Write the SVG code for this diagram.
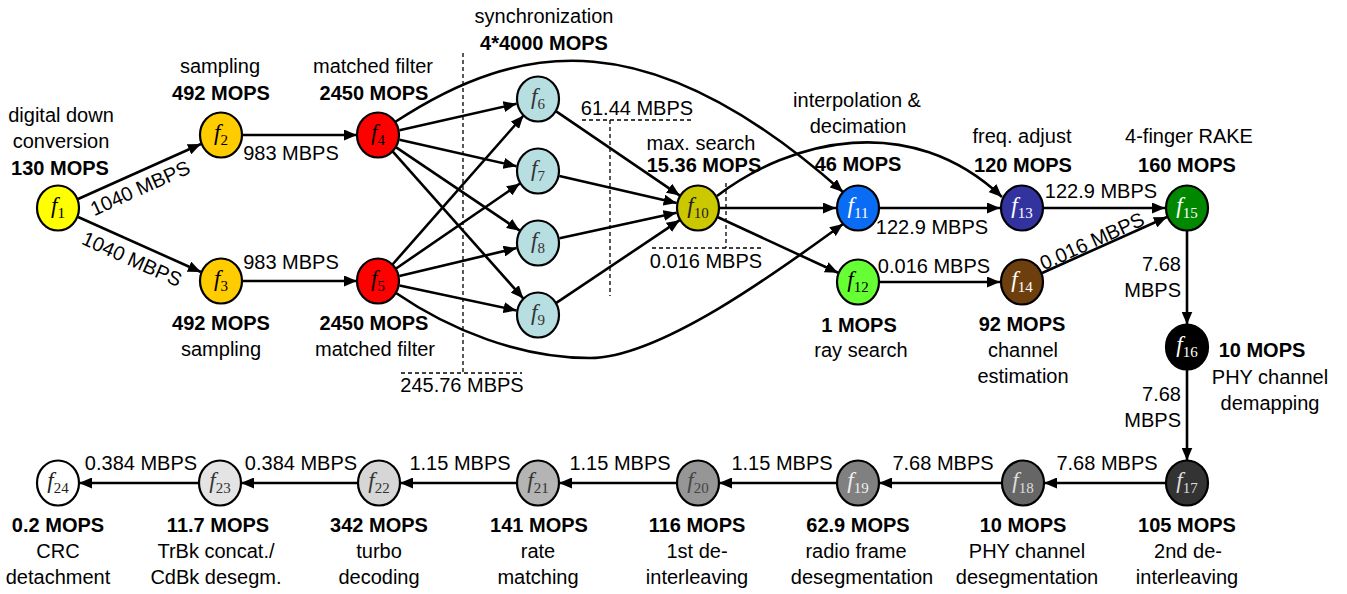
<svg xmlns="http://www.w3.org/2000/svg" width="1347" height="594" viewBox="0 0 1347 594">
<style>
.t{font-family:"Liberation Sans",Arial,sans-serif;font-size:20px;fill:#000;text-anchor:middle}
.b{font-weight:bold}
.r{text-anchor:end}
.n{stroke:#000;stroke-width:2.2}
.nt{font-family:"Liberation Serif","Times New Roman",serif;text-anchor:middle}
.fi{font-style:italic;font-size:23px}
.sb{font-size:15px}
.e{stroke:#000;stroke-width:2.6;fill:none;marker-end:url(#ah)}
.d{stroke:#000;stroke-width:1.3;stroke-dasharray:4 3;fill:none}
</style>
<defs>
<marker id="ah" markerUnits="userSpaceOnUse" markerWidth="13" markerHeight="11" refX="13" refY="5.5" orient="auto"><path d="M0,0 L13,5.5 L0,11 z" fill="#000"/></marker>
</defs>
<rect width="1347" height="594" fill="#fff"/>

<g id="dashed">
<path class="d" d="M463,53 V373 M401,373 H522"/>
<path class="d" d="M582,120 H692 M610,120 V296"/>
<path class="d" d="M726,183 V248 M652,248 H761"/>
</g>

<g id="connectors">
<path class="e" d="M78.1,199 L200.9,144"/>
<path class="e" d="M78.1,217 L200.9,272"/>
<path class="e" d="M242,135 L357,135"/>
<path class="e" d="M242,281 L357,281"/>
<path class="e" d="M399.5,130.2 L516.5,103.8"/>
<path class="e" d="M399.5,139.8 L516.5,166.2"/>
<path class="e" d="M396.2,147.3 L519.8,230.7"/>
<path class="e" d="M392.6,151.4 L523.4,298.6"/>
<path class="e" d="M392.5,264.5 L523.5,115.5"/>
<path class="e" d="M396.1,268.5 L519.9,183.5"/>
<path class="e" d="M399.4,275.9 L516.6,248.1"/>
<path class="e" d="M399.5,285.6 L516.5,310.4"/>
<path class="e" d="M556.2,111.4 L679.8,195.6"/>
<path class="e" d="M559.4,176 L676.6,203"/>
<path class="e" d="M559.5,238.3 L676.5,212.7"/>
<path class="e" d="M556.3,302.8 L679.7,220.2"/>
<path class="e" d="M720,208 L836,208"/>
<path class="e" d="M718,217.2 L838,272.8"/>
<path class="e" d="M880,208 L1000,208"/>
<path class="e" d="M880,282 L1000,282"/>
<path class="e" d="M1044,208 L1165,208"/>
<path class="e" d="M1042.1,273 L1166.9,217"/>
<path class="e" d="M1187,230.5 L1187,324.5"/>
<path class="e" d="M1187,369.5 L1187,460.5"/>
<path class="e" d="M1166,483 L1044,483"/>
<path class="e" d="M1002,483 L879,483"/>
<path class="e" d="M837,483 L719,483"/>
<path class="e" d="M677,483 L559,483"/>
<path class="e" d="M517,483 L400,483"/>
<path class="e" d="M358,483 L241,483"/>
<path class="e" d="M199,483 L79,483"/>
<path class="e" d="M395,122 C520,40 650,20 843,192"/>
<path class="e" d="M396,293 C450,330 520,358 590,358 S780,270 843,224"/>
<path class="e" d="M717,196 C790,140 910,110 1002,197"/>
</g>

<g id="edge-labels" class="t">
<text transform="translate(140,188) rotate(-24.1)" y="7">1040 MBPS</text>
<text transform="translate(132,259) rotate(24.1)" y="7">1040 MBPS</text>
<text x="291" y="160">983 MBPS</text>
<text x="291" y="269">983 MBPS</text>
<text x="637" y="115">61.44 MBPS</text>
<text x="706" y="268">0.016 MBPS</text>
<text x="462" y="392">245.76 MBPS</text>
<text x="932" y="234">122.9 MBPS</text>
<text x="934" y="273">0.016 MBPS</text>
<text x="1101" y="198">122.9 MBPS</text>
<text transform="translate(1092,241) rotate(-24.4)" y="7">0.016 MBPS</text>
<text class="r" x="1181" y="271">7.68</text>
<text class="r" x="1181" y="297">MBPS</text>
<text class="r" x="1181" y="401">7.68</text>
<text class="r" x="1181" y="427">MBPS</text>
<text x="1107" y="470">7.68 MBPS</text>
<text x="943" y="470">7.68 MBPS</text>
<text x="782" y="470">1.15 MBPS</text>
<text x="620" y="470">1.15 MBPS</text>
<text x="460" y="470">1.15 MBPS</text>
<text x="301" y="470">0.384 MBPS</text>
<text x="141" y="470">0.384 MBPS</text>
</g>

<g id="f1"><ellipse class="n" cx="58" cy="208" rx="21" ry="22.5" fill="#FFFF00"/><text class="nt" x="58" y="213"><tspan class="fi">f</tspan><tspan class="sb" dy="5">1</tspan></text>
<text class="t" x="61" y="122">digital down</text><text class="t" x="61" y="148">conversion</text><text class="t b" x="60" y="175">130 MOPS</text></g>
<g id="f2"><ellipse class="n" cx="221" cy="135" rx="21" ry="22.5" fill="#FFCC00"/><text class="nt" x="221" y="140"><tspan class="fi">f</tspan><tspan class="sb" dy="5">2</tspan></text>
<text class="t" x="220" y="73">sampling</text><text class="t b" x="221" y="100">492 MOPS</text></g>
<g id="f3"><ellipse class="n" cx="221" cy="281" rx="21" ry="22.5" fill="#FFCC00"/><text class="nt" x="221" y="286"><tspan class="fi">f</tspan><tspan class="sb" dy="5">3</tspan></text>
<text class="t b" x="221" y="330">492 MOPS</text><text class="t" x="221" y="356">sampling</text></g>
<g id="f4"><ellipse class="n" cx="378" cy="135" rx="21" ry="22.5" fill="#FF0000"/><text class="nt" x="378" y="140"><tspan class="fi">f</tspan><tspan class="sb" dy="5">4</tspan></text>
<text class="t" x="373" y="73">matched filter</text><text class="t b" x="374" y="100">2450 MOPS</text></g>
<g id="f5"><ellipse class="n" cx="378" cy="281" rx="21" ry="22.5" fill="#FF0000"/><text class="nt" x="378" y="286"><tspan class="fi">f</tspan><tspan class="sb" dy="5">5</tspan></text>
<text class="t b" x="374" y="330">2450 MOPS</text><text class="t" x="375" y="356">matched filter</text></g>
<g id="sync-label"><text class="t" x="544" y="23">synchronization</text><text class="t b" x="544" y="50">4*4000 MOPS</text></g>
<g id="f6"><ellipse class="n" cx="538" cy="99" rx="21" ry="22.5" fill="#B7DEE1"/><text class="nt" x="538" y="104" fill="#333"><tspan class="fi">f</tspan><tspan class="sb" dy="5">6</tspan></text></g>
<g id="f7"><ellipse class="n" cx="538" cy="171" rx="21" ry="22.5" fill="#B7DEE1"/><text class="nt" x="538" y="176" fill="#333"><tspan class="fi">f</tspan><tspan class="sb" dy="5">7</tspan></text></g>
<g id="f8"><ellipse class="n" cx="538" cy="243" rx="21" ry="22.5" fill="#B7DEE1"/><text class="nt" x="538" y="248" fill="#333"><tspan class="fi">f</tspan><tspan class="sb" dy="5">8</tspan></text></g>
<g id="f9"><ellipse class="n" cx="538" cy="315" rx="21" ry="22.5" fill="#B7DEE1"/><text class="nt" x="538" y="320" fill="#333"><tspan class="fi">f</tspan><tspan class="sb" dy="5">9</tspan></text></g>
<g id="f10"><ellipse class="n" cx="698" cy="208" rx="21" ry="22.5" fill="#CCC800"/><text class="nt" x="698" y="213" fill="#222"><tspan class="fi">f</tspan><tspan class="sb" dy="5">10</tspan></text>
<text class="t" x="701" y="150">max. search</text><text class="t b" x="704" y="172">15.36 MOPS</text></g>
<g id="f11"><ellipse class="n" cx="858" cy="208" rx="21" ry="22.5" fill="#0A6CF5"/><text class="nt" x="858" y="213" fill="#fff"><tspan class="fi">f</tspan><tspan class="sb" dy="5">11</tspan></text>
<text class="t" x="857" y="107">interpolation &amp;</text><text class="t" x="858" y="133">decimation</text><text class="t b" x="858" y="171">46 MOPS</text></g>
<g id="f12"><ellipse class="n" cx="858" cy="282" rx="21" ry="22.5" fill="#66FF33"/><text class="nt" x="858" y="287"><tspan class="fi">f</tspan><tspan class="sb" dy="5">12</tspan></text>
<text class="t b" x="859" y="332">1 MOPS</text><text class="t" x="861" y="357">ray search</text></g>
<g id="f13"><ellipse class="n" cx="1022" cy="208" rx="21" ry="22.5" fill="#33339F"/><text class="nt" x="1022" y="213" fill="#fff"><tspan class="fi">f</tspan><tspan class="sb" dy="5">13</tspan></text>
<text class="t" x="1022" y="143">freq. adjust</text><text class="t b" x="1023" y="172">120 MOPS</text></g>
<g id="f14"><ellipse class="n" cx="1022" cy="282" rx="21" ry="22.5" fill="#6E3F0E"/><text class="nt" x="1022" y="287" fill="#fff"><tspan class="fi">f</tspan><tspan class="sb" dy="5">14</tspan></text>
<text class="t b" x="1022" y="331">92 MOPS</text><text class="t" x="1023" y="357">channel</text><text class="t" x="1023" y="383">estimation</text></g>
<g id="f15"><ellipse class="n" cx="1187" cy="208" rx="21" ry="22.5" fill="#008800"/><text class="nt" x="1187" y="213" fill="#fff"><tspan class="fi">f</tspan><tspan class="sb" dy="5">15</tspan></text>
<text class="t" x="1189" y="143">4-finger RAKE</text><text class="t b" x="1187" y="172">160 MOPS</text></g>
<g id="f16"><ellipse class="n" cx="1187" cy="347" rx="21" ry="22.5" fill="#000"/><text class="nt" x="1187" y="352" fill="#fff"><tspan class="fi">f</tspan><tspan class="sb" dy="5">16</tspan></text>
<text class="t b" x="1262" y="357">10 MOPS</text><text class="t" x="1270" y="384">PHY channel</text><text class="t" x="1270" y="410">demapping</text></g>
<g id="f17"><ellipse class="n" cx="1187" cy="483" rx="21" ry="22.5" fill="#333"/><text class="nt" x="1187" y="488" fill="#ddd"><tspan class="fi">f</tspan><tspan class="sb" dy="5">17</tspan></text>
<text class="t b" x="1187" y="532">105 MOPS</text><text class="t" x="1188" y="558">2nd de-</text><text class="t" x="1187" y="584">interleaving</text></g>
<g id="f18"><ellipse class="n" cx="1023" cy="483" rx="21" ry="22.5" fill="#666"/><text class="nt" x="1023" y="488" fill="#ddd"><tspan class="fi">f</tspan><tspan class="sb" dy="5">18</tspan></text>
<text class="t b" x="1023" y="532">10 MOPS</text><text class="t" x="1027" y="558">PHY channel</text><text class="t" x="1027" y="584">desegmentation</text></g>
<g id="f19"><ellipse class="n" cx="858" cy="483" rx="21" ry="22.5" fill="#808080"/><text class="nt" x="858" y="488" fill="#eee"><tspan class="fi">f</tspan><tspan class="sb" dy="5">19</tspan></text>
<text class="t b" x="858" y="532">62.9 MOPS</text><text class="t" x="856" y="558">radio frame</text><text class="t" x="862" y="584">desegmentation</text></g>
<g id="f20"><ellipse class="n" cx="698" cy="483" rx="21" ry="22.5" fill="#969696"/><text class="nt" x="698" y="488" fill="#444"><tspan class="fi">f</tspan><tspan class="sb" dy="5">20</tspan></text>
<text class="t b" x="697" y="532">116 MOPS</text><text class="t" x="697" y="558">1st de-</text><text class="t" x="697" y="584">interleaving</text></g>
<g id="f21"><ellipse class="n" cx="538" cy="483" rx="21" ry="22.5" fill="#B4B4B4"/><text class="nt" x="538" y="488" fill="#333"><tspan class="fi">f</tspan><tspan class="sb" dy="5">21</tspan></text>
<text class="t b" x="539" y="532">141 MOPS</text><text class="t" x="538" y="558">rate</text><text class="t" x="538" y="584">matching</text></g>
<g id="f22"><ellipse class="n" cx="379" cy="483" rx="21" ry="22.5" fill="#D6D6D6"/><text class="nt" x="379" y="488" fill="#333"><tspan class="fi">f</tspan><tspan class="sb" dy="5">22</tspan></text>
<text class="t b" x="379" y="532">342 MOPS</text><text class="t" x="379" y="558">turbo</text><text class="t" x="379" y="584">decoding</text></g>
<g id="f23"><ellipse class="n" cx="220" cy="483" rx="21" ry="22.5" fill="#E4E4E4"/><text class="nt" x="220" y="488" fill="#333"><tspan class="fi">f</tspan><tspan class="sb" dy="5">23</tspan></text>
<text class="t b" x="218" y="532">11.7 MOPS</text><text class="t" x="216" y="558">TrBk concat./</text><text class="t" x="216" y="584">CdBk desegm.</text></g>
<g id="f24"><ellipse class="n" cx="58" cy="483" rx="21" ry="22.5" fill="#fff"/><text class="nt" x="58" y="488" fill="#222"><tspan class="fi">f</tspan><tspan class="sb" dy="5">24</tspan></text>
<text class="t b" x="58" y="532">0.2 MOPS</text><text class="t" x="58" y="558">CRC</text><text class="t" x="58" y="584">detachment</text></g>
</svg>
